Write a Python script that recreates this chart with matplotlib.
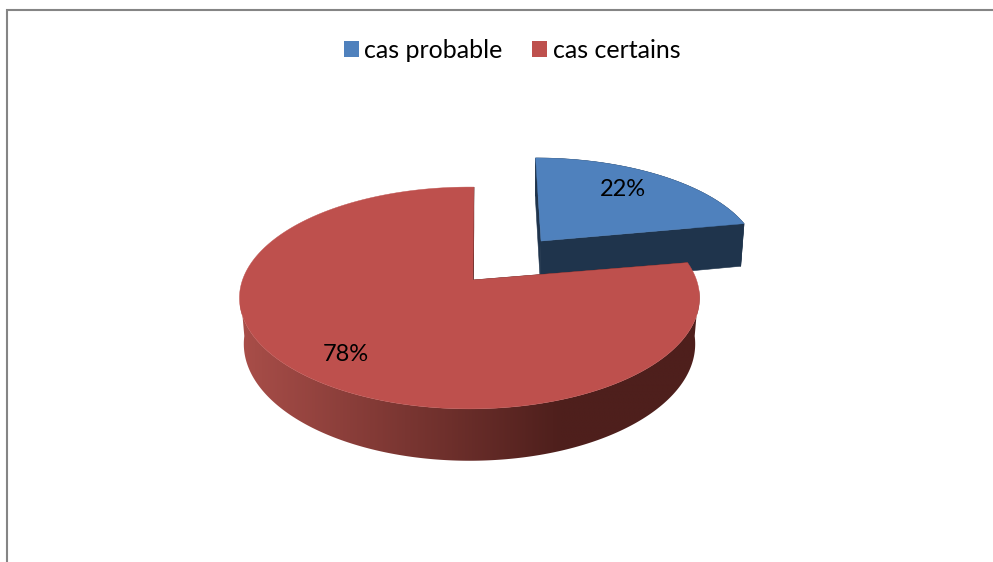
import numpy as np
import matplotlib
matplotlib.use("Agg")
import matplotlib.pyplot as plt
from matplotlib.patches import Polygon, Patch
from matplotlib.colors import LinearSegmentedColormap

categories = ["cas probable", "cas certains"]
percent_values = [22, 78]
percent_labels = ["22%", "78%"]

TOP_COLORS = ["#4F81BD", "#BE504D"]
FONT = "Lato"
K_TOP, K_BOT = 0.162, 0.154
RX_TOP, RX_BOT = 227.0, 223.0
SY_TOP, SY_BOT = 108.0, 114.0
Y_TOP, Y_BOT = 280.0, 326.0


def project(xs, ys, vx, level):
    """Perspective projection of pie-plane coordinates to figure pixels."""
    k, rx, sy, y0 = ((K_TOP, RX_TOP, SY_TOP, Y_TOP) if level == "top"
                     else (K_BOT, RX_BOT, SY_BOT, Y_BOT))
    w = 1 + k * ys
    return vx + rx * xs / w, y0 - sy * ys / w


fig = plt.figure(figsize=(9.93, 5.62), dpi=100)
ax = fig.add_axes([0, 0, 1, 1])
ax.axis("off")

# chart frame
ax.plot([6.5, 6.5, 993], [562, 9.5, 9.5], color="#858585", lw=1.5,
        solid_joinstyle="miter", zorder=1)

fractions = np.array(percent_values, dtype=float) / sum(percent_values)
edges = np.concatenate([[0], np.cumsum(fractions)]) * 2 * np.pi
slice_geom = [
    dict(vx=500.0, dx=0.192, dy=0.383, apex_dx=0.0, rot=0.0, label_r=0.76, label_shift=-10, side="#1F344C"),
    dict(vx=469.5, dx=0.0, dy=0.0, apex_dx=0.015, rot=1.3, label_r=0.82, label_shift=12, side="#4E1F1C"),
]
rim_cmap = LinearSegmentedColormap.from_list("rim", ["#A94E49", "#4E1F1C", "#4E1F1C"], N=256)

z = 2
for i, geom in enumerate(slice_geom):
    t0, t1 = edges[i] + np.radians(geom["rot"]), edges[i + 1] + np.radians(geom["rot"])
    th = np.linspace(t0, t1, 360)
    X = np.sin(th) + geom["dx"]
    Y = np.cos(th) + geom["dy"]
    ox, oy = np.array([geom["dx"]]), np.array([geom["dy"]])
    xt, yt = project(X, Y, geom["vx"], "top")
    xb, yb = project(X, Y, geom["vx"], "bottom")
    cxt, cyt = project(ox + geom["apex_dx"], oy, geom["vx"], "top")
    cxb, cyb = project(ox + geom["apex_dx"], oy, geom["vx"], "bottom")
    side = geom["side"]

    # straight inner faces
    for j in (0, -1):
        face = np.array([[cxt[0], cyt[0]], [xt[j], yt[j]], [xb[j], yb[j]], [cxb[0], cyb[0]]])
        ax.add_patch(Polygon(face, closed=True, fc=side, ec=side, lw=0.4, zorder=z))
    z += 1

    # visible rim
    lo, hi = max(t0, np.radians(95)) if i else t0, min(t1, np.radians(265)) if i else t1
    rim_th = np.linspace(lo, hi, 300)
    rx_t, ry_t = project(np.sin(rim_th) + ox, np.cos(rim_th) + oy, geom["vx"], "top")
    rx_b, ry_b = project(np.sin(rim_th) + ox, np.cos(rim_th) + oy, geom["vx"], "bottom")
    band = np.column_stack([np.r_[rx_t, rx_b[::-1]], np.r_[ry_t, ry_b[::-1]]])
    if i == 0:
        ax.add_patch(Polygon(band, closed=True, fc=side, ec=side, lw=0.4, zorder=z))
    else:
        clip = Polygon(band, closed=True, transform=ax.transData, fc="none", ec="none")
        ax.add_patch(clip)
        img = ax.imshow(np.linspace(0, 1, 512)[None, :], cmap=rim_cmap, aspect="auto",
                        extent=(240, 880, 470, 250), zorder=z, interpolation="bilinear")
        img.set_clip_path(clip)
    z += 1

    # top surface
    top = np.column_stack([np.r_[cxt, xt], np.r_[cyt, yt]])
    ax.add_patch(Polygon(top, closed=True, fc=TOP_COLORS[i], ec=TOP_COLORS[i], lw=0.3, zorder=z))
    z += 1

    mid = (t0 + t1) / 2
    r = geom["label_r"]
    lx, ly = project(r * np.sin(mid) + ox, r * np.cos(mid) + oy, geom["vx"], "top")
    ax.text(lx[0] + geom["label_shift"], ly[0], percent_labels[i], fontsize=17, family=FONT,
            ha="center", va="center", color="black", zorder=50)

ax.set_xlim(0, 993)
ax.set_ylim(562, 0)

handles = [Patch(fc=c, ec="none") for c in TOP_COLORS]
leg = ax.legend(handles, categories, loc="center", bbox_to_anchor=(512 / 993, 1 - 50.5 / 562),
                ncol=2, frameon=False, prop={"family": FONT, "size": 18},
                handlelength=0.6, handleheight=0.6, handletextpad=0.24,
                columnspacing=1.16, borderpad=0, borderaxespad=0)
for t in leg.get_texts():
    t.set_color("black")

fig.savefig("out.png", dpi=100, facecolor="white")
